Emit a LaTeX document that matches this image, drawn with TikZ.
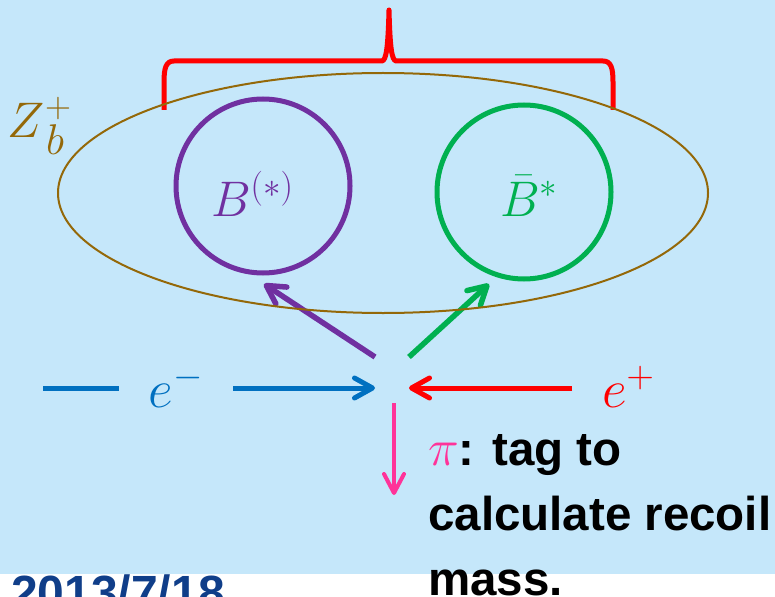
\RequirePackage{fix-cm}
\documentclass[tikz,border=0pt]{standalone}
\usepackage[no-math]{fontspec}
\setmainfont{Liberation Sans}
\usetikzlibrary{arrows.meta,shapes.geometric}
\definecolor{bgblue}{RGB}{197,231,250}
\definecolor{zbrown}{RGB}{148,104,8}
\definecolor{bpurple}{RGB}{112,48,160}
\definecolor{bgreen}{RGB}{0,176,80}
\definecolor{eblue}{RGB}{0,112,192}
\definecolor{ered}{RGB}{255,0,0}
\definecolor{pipink}{RGB}{255,51,153}
\definecolor{dateblue}{RGB}{16,62,137}
\begin{document}
\begin{tikzpicture}[x=1pt,y=-1pt,
  barb/.style={-{Straight Barb[length=18pt,width=20pt,round]}, line width=5pt},
  thinbarb/.style={-{Straight Barb[length=19pt,width=20pt,round]}, line width=4pt},
  mesonring/.style={circle, line width=5pt, minimum size=174pt, inner sep=0pt},
  mathlbl/.style={inner sep=0pt, outer sep=0pt, font=\fontsize{50pt}{60pt}\selectfont},
  elbl/.style={inner ysep=0pt, outer sep=0pt, font=\fontsize{54pt}{64pt}\selectfont},
  bigtext/.style={inner sep=0pt, font={\bfseries\fontsize{47.5pt}{65pt}\selectfont}}]
\clip (0,0) rectangle (775,596);
\fill[white] (0,0) rectangle (775,596);
\fill[bgblue] (0,0) rectangle (775,573.5);

% mesons
\node[mesonring, draw=bpurple] (cB) at (263,186) {};
\node[mesonring, draw=bgreen] (cBbar) at (524,192) {};
\node[mathlbl, text=bpurple, anchor=base west] (lB) at (211,216) {$B^{(*)}$};
\node[mathlbl, text=bgreen, anchor=base west] (lBbar) at (500,216) {$\bar{B}^{*}$};

% brace
\draw[ered, line width=5pt, line join=round]
  (164,110) -- (164,82) .. controls (164,68) and (166,61) .. (174,61) -- (382,61)
  .. controls (386,60) and (388,50) .. (389,10)
  .. controls (390,50) and (392,60) .. (396,61) -- (603,61)
  .. controls (611,61) and (613,68) .. (613,82) -- (613,110);

% beam lines
\coordinate (emS) at (43,388);
\coordinate (ctrL) at (375,388);
\coordinate (epS) at (572,388);
\coordinate (ctrR) at (409,388);
\node[elbl, inner xsep=30pt, text=eblue, anchor=base] (em) at (176,407) {$e^{-}$};
\node[elbl, inner xsep=0pt, text=ered, anchor=base west] (ep) at (602,407) {$e^{+}$};
\draw[eblue, line width=5pt] (emS) -- (em.west |- emS);
\draw[eblue, barb] (em.east |- emS) -- (ctrL);
\draw[ered, barb] (epS) -- (ctrR);

% products
\coordinate (pS) at (375,357);
\coordinate (pE) at (264,284);
\coordinate (gS) at (409,357);
\coordinate (gE) at (489,284);
\coordinate (piS) at (394,403);
\coordinate (piE) at (394,495);
\draw[bpurple, barb, line width=5.5pt] (pS) -- (pE);
\draw[bgreen, barb, line width=5.5pt] (gS) -- (gE);
\draw[pipink, thinbarb] (piS) -- (piE);

% Z_b ellipse
\node[ellipse, draw=zbrown, line width=2pt, minimum width=650pt, minimum height=240pt, inner sep=0pt] (zb) at (383,193) {};
\node[mathlbl, text=zbrown, anchor=base west] (lzb) at (8,138)
  {$Z$\rlap{\raisebox{20pt}{\fontsize{36pt}{36pt}\selectfont$+$}}\hspace{1pt}\raisebox{-17pt}{\fontsize{43pt}{43pt}\selectfont$b$}};

% texts
\node[bigtext, align=left, anchor=base west] (tag) at (428,595)
  {\textcolor{pipink}{\fontsize{52pt}{65pt}\selectfont$\pi$}: tag to\\calculate recoil\\mass.};
\node[bigtext, text=dateblue, font={\bfseries\fontsize{48pt}{58pt}\selectfont}, anchor=base west] (date) at (11,609) {2013/7/18};
\end{tikzpicture}
\end{document}
